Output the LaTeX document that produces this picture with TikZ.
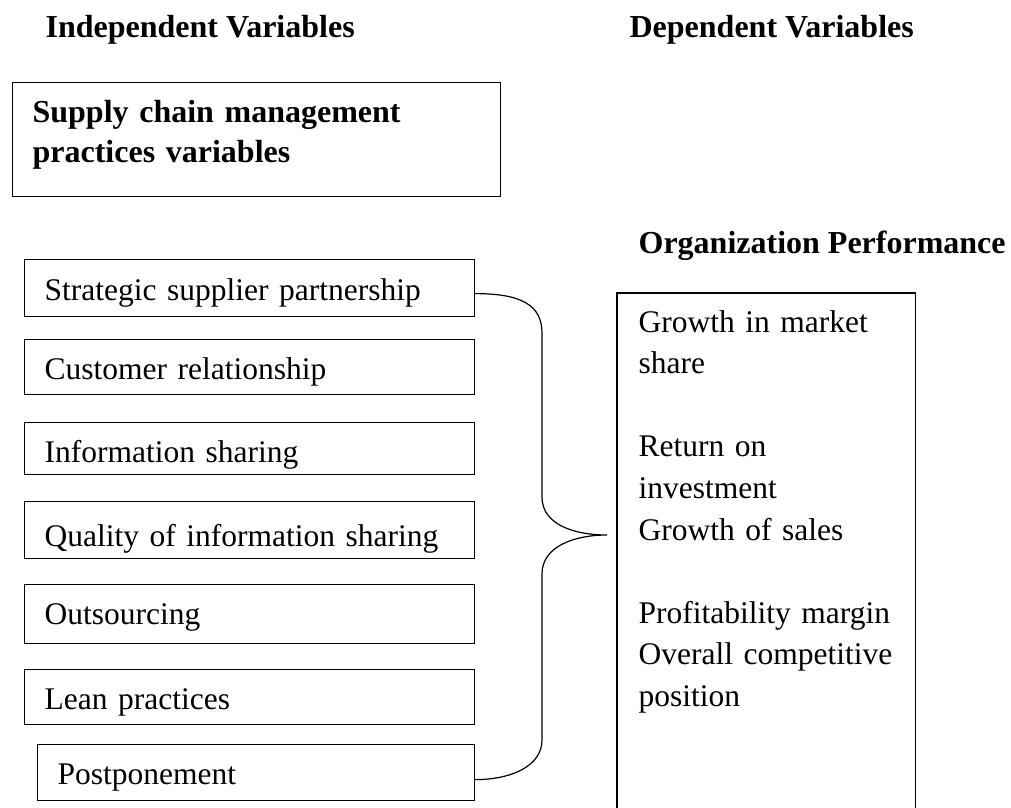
\documentclass[tikz,border=0pt]{standalone}
\usepackage{fontspec}
\setmainfont{Liberation Serif}
\begin{document}
\begin{tikzpicture}[x=1pt,y=-1pt,line width=1.2pt,
  every node/.style={font=\fontsize{31.5}{41.6}\selectfont},
  lbox/.style={draw, anchor=north west, minimum height=#1, minimum width=450pt,
    text width=410pt, inner xsep=20pt, inner ysep=0pt, align=left,
    text height=26pt, text depth=2pt},
  head/.style={anchor=base west, inner sep=0pt, font=\fontsize{32}{40}\selectfont\bfseries},
  plain/.style={anchor=base west, inner sep=0pt, align=left}]
\useasboundingbox (0,0) rectangle (1011,807);

% headings
\node[head] (indep) at (45,37) {Independent Variables};
\node[head] (dep) at (629,37) {Dependent Variables};

% top box
\node[draw, anchor=north west, minimum width=488pt, minimum height=114pt, inner sep=0pt] (scm) at (12,82) {};
\node[head, text width=460pt, align=left] (scmtext) at (32,122) {Supply chain management\\practices variables};

% left boxes
\node[lbox=57pt] (b1) at (24,259) {Strategic supplier partnership};
\node[lbox=55pt] (b2) at (24,339) {Customer relationship};
\node[lbox=52pt, text height=30pt] (b3) at (24,422) {Information sharing};
\node[lbox=57pt, text height=35pt] (b4) at (24,501) {Quality of information sharing};
\node[lbox=59pt, text height=23pt] (b5) at (24,584) {Outsourcing};
\node[lbox=55pt] (b6) at (24,669) {Lean practices};
\node[lbox=56pt, minimum width=437pt, text width=397pt] (b7) at (37,744) {Postponement};

% dependent
\node[head] (orgperf) at (638,253) {Organization Performance};
\node[anchor=north west, minimum width=297pt, minimum height=514pt, inner sep=0pt] (perf) at (617,293) {};
\draw[line width=1.4pt] (perf.south west) -- (perf.north west) -- (perf.north east) -- (perf.south east);
\node[plain, text width=270pt] (perftext) at (638,332) {Growth in market\\share\\[41.6pt]Return on\\investment\\Growth of sales\\[41.6pt]Profitability margin\\Overall competitive\\position};

% brace
\coordinate (tip) at (607,535);
\draw ([yshift=-5.5pt]b1.east) .. controls +(46,0) and +(0,-28) .. (542,333)
  -- (542,497) .. controls +(0,28) and +(-32,0) .. (tip)
  .. controls +(-32,0) and +(0,-28) .. (542,574)
  -- (542,740) .. controls +(0,26) and +(36,0) .. ([yshift=-7pt]b7.east);
\end{tikzpicture}
\end{document}
